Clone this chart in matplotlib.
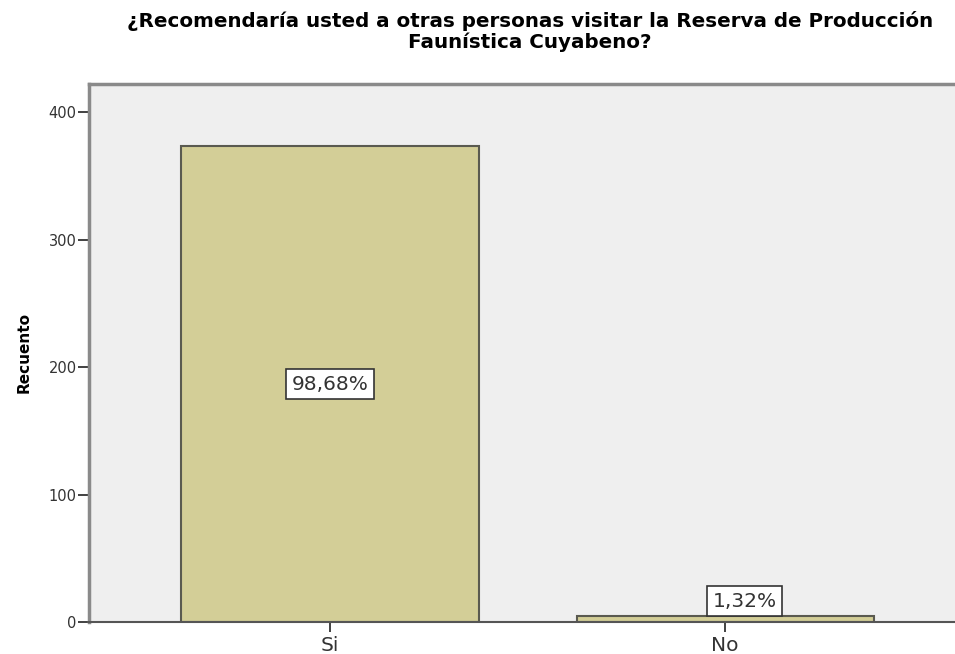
import matplotlib.pyplot as plt

categories = ["Si", "No"]
counts = [373, 5]
pct_labels = ["98,68%", "1,32%"]
yticks = [0, 100, 200, 300, 400]

plt.rcParams['font.family'] = ['DejaVu Sans']

fig = plt.figure(figsize=(9.55, 6.54), dpi=100)
ax = fig.add_axes([0.0932, 0.0489, 0.907, 0.8227])
ax.set_facecolor("#efefef")

x = range(len(categories))
ax.bar(x, counts, width=0.752, color="#d3ce97", edgecolor="#5a5a50", linewidth=1.5, zorder=2)

# percentage boxes
box = dict(boxstyle="square,pad=0.28", fc="white", ec="#333333", lw=1.2)
ax.text(0, counts[0] / 2, pct_labels[0], ha="center", va="center", fontsize=14.5, color="#333333",
        bbox=box, zorder=3)
ax.annotate(pct_labels[1], xy=(1, counts[1]), xytext=(14, 3.5), textcoords="offset points",
            ha="center", va="bottom", fontsize=14.5, color="#333333", bbox=box, zorder=3)

ax.set_xlim(-0.610, 1.582)
ax.set_ylim(0, 422)
ax.set_yticks(yticks)
ax.set_xticks(list(x))
ax.set_xticklabels(categories, fontsize=14.5, color="#333333")
ax.tick_params(axis="y", labelsize=10.5, labelcolor="#333333", length=8, width=1.3, color="#333333", pad=1)
ax.tick_params(axis="x", length=7, width=1.3, color="#333333", pad=3)
ax.set_ylabel("Recuento", fontsize=11, fontweight="bold", labelpad=12)

for s in ["left", "top"]:
    ax.spines[s].set_color("#8a8a8a")
    ax.spines[s].set_linewidth(2.5)
ax.spines["right"].set_visible(False)
ax.spines["bottom"].set_color("#555555")
ax.spines["bottom"].set_linewidth(1.5)

fig.text(0.555, 0.983, "¿Recomendaría usted a otras personas visitar la Reserva de Producción\nFaunística Cuyabeno?",
         ha="center", va="top", fontsize=14.3, fontweight="bold", linespacing=1.08)

fig.savefig("out.png", dpi=100)
